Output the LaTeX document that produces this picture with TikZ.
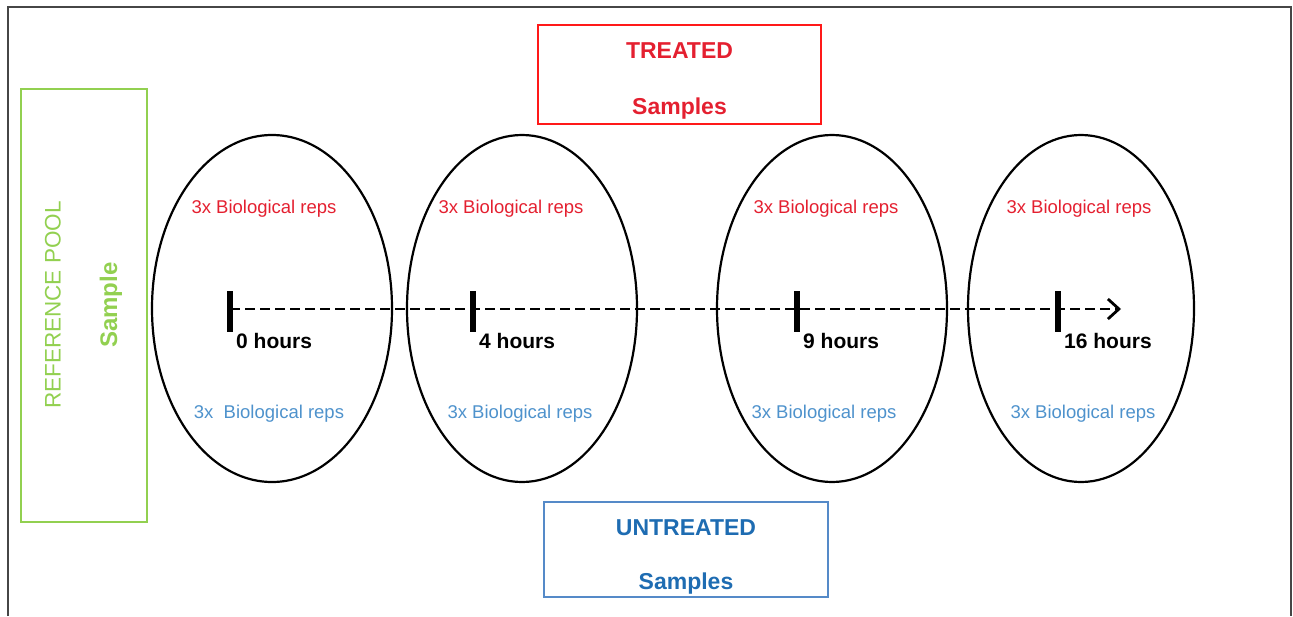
\documentclass[tikz,border=0pt]{standalone}
\usepackage{fontspec}
\setmainfont{Liberation Sans}
\usetikzlibrary{arrows.meta,shapes.geometric}

\definecolor{treatred}{RGB}{228,32,48}
\definecolor{boxred}{RGB}{255,25,25}
\definecolor{untreatblue}{RGB}{30,108,178}
\definecolor{boxblue}{RGB}{85,138,200}
\definecolor{repblue}{RGB}{78,146,204}
\definecolor{poolgreen}{RGB}{146,208,80}
\definecolor{framegray}{RGB}{70,70,70}

\tikzset{
  timepoint/.style={draw=black, line width=2.2pt, ellipse, inner sep=0pt, minimum height=347pt},
  groupbox/.style={draw=#1, line width=2pt, rectangle, inner sep=0pt},
  boxtext/.style={align=center, inner sep=0pt, font=\bfseries\fontsize{23}{56}\selectfont},
  treatedreps/.style={text=treatred, font=\fontsize{18.5}{22}\selectfont},
  untreatedreps/.style={text=repblue, font=\fontsize{18.5}{22}\selectfont},
  hourlabel/.style={anchor=west, inner sep=0pt, font=\bfseries\fontsize{21}{24}\selectfont},
  tickmark/.style={line width=6pt},
  timeaxis/.style={line width=2.8pt, dash pattern=on 10pt off 5pt,
    -{Straight Barb[length=11pt,width=20pt,line width=2.8pt]}}
}

\begin{document}
\begin{tikzpicture}[x=1pt,y=-1pt]
    \useasboundingbox (0,0) rectangle (1293,616);
    % outer frame
    \draw[framegray, line width=1.8pt] (8,616) |- (1291,7) -- (1291,616);

    % reference pool
    \node[groupbox=poolgreen, minimum width=126pt, minimum height=433pt] (pool) at (84,305.5) {};
    \node[rotate=90, text=poolgreen, font=\fontsize{22.5}{27}\selectfont] (pooltitle) at (53,305) {REFERENCE POOL};
    \node[rotate=90, text=poolgreen, font=\bfseries\fontsize{24}{28}\selectfont] (poolsample) at (111,305) {Sample};

    % treated / untreated boxes
    \node[groupbox=boxred, minimum width=283pt, minimum height=99pt] (treated) at (679.5,74.5) {};
    \node[boxtext, text=treatred] (treatedtext) at ([yshift=-6pt]treated.center) {TREATED\\Samples};
    \node[groupbox=boxblue, minimum width=284pt, minimum height=95pt] (untreated) at (686,549.5) {};
    \node[boxtext, text=untreatblue, font=\bfseries\fontsize{23}{54}\selectfont]
        (untreatedtext) at ([yshift=-7pt]untreated.center) {UNTREATED\\Samples};

    % time points
    \foreach \name/\ex/\ewidth/\rx/\bx/\tx/\rtext in
        {0/272/240/264/269/230/{3x~~Biological reps},
         4/522/230/511/520/473/{3x Biological reps},
         9/832/230/826/824/797/{3x Biological reps},
         16/1081/226/1079/1083/1058/{3x Biological reps}} {
        \node[timepoint, minimum width=\ewidth pt] (e\name) at (\ex,308.5) {};
        \node[treatedreps] (tr\name) at (\rx,209) {3x Biological reps};
        \node[untreatedreps] (ut\name) at (\bx,414) {\rtext};
        \coordinate (t\name) at (\tx,309);
    }

    \coordinate (axisend) at (1121,309);
    \draw[timeaxis] (t0) -- (axisend);

    \foreach \name in {0,4,9,16} {
        \draw[tickmark] ([yshift=18pt]t\name) -- ([yshift=-23pt]t\name);
        \node[hourlabel] (h\name) at ([xshift=6pt,yshift=-32pt]t\name) {\name\ hours};
    }
\end{tikzpicture}
\end{document}
